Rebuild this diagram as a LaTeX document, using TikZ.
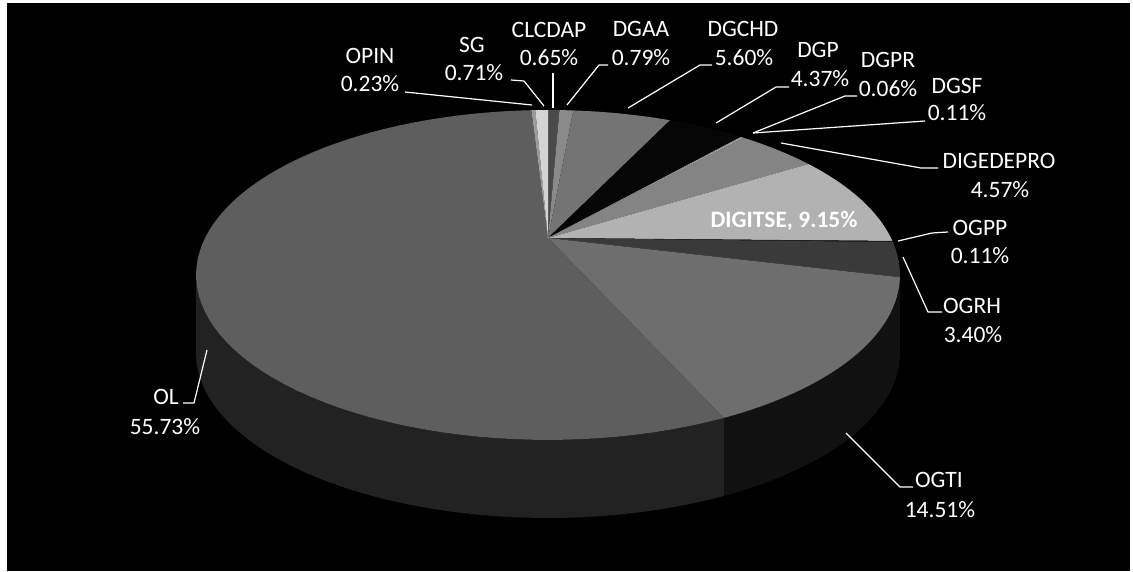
\documentclass[tikz,border=0pt]{standalone}
\usepackage{fontspec}
\setmainfont{Carlito}
\definecolor{cCLC}{HTML}{4A4A4A}
\definecolor{cDGAA}{HTML}{8A8A8A}
\definecolor{cDGCHD}{HTML}{747474}
\definecolor{cDGP}{HTML}{060606}
\definecolor{cDGPR}{HTML}{9A9A9A}
\definecolor{cDGSF}{HTML}{ABABAB}
\definecolor{cDIGE}{HTML}{848484}
\definecolor{cDIGI}{HTML}{B2B2B2}
\definecolor{cOGPP}{HTML}{1C1C1C}
\definecolor{cOGRH}{HTML}{3A3A3A}
\definecolor{cOGTI}{HTML}{6E6E6E}
\definecolor{cOL}{HTML}{5E5E5E}
\definecolor{cOPIN}{HTML}{9C9C9C}
\definecolor{cSG}{HTML}{D4D4D4}
\definecolor{sOL}{HTML}{222222}
\definecolor{sOGTI}{HTML}{111111}
\newcommand\pieslice[3]{\fill[#3] (apex) -- plot[domain=#1:#2] ({px(\x)},{py(\x)}) -- cycle;}
\newcommand\pieside[3]{\fill[#3] plot[domain=#1:#2] ({px(\x)},{py(\x)}) -- plot[domain=#2:#1] ({px(\x)},{py(\x)+78}) -- cycle;}
\begin{document}
\begin{tikzpicture}[x=1pt,y=-1pt,samples=80,
  declare function={px(\t)=548+343*sin(\t)/(1+0.2242*cos(\t)); py(\t)=(238-103.33*cos(\t))/(1+0.2242*cos(\t));},
  lbl/.style={text=white,font=\fontsize{23.5}{28}\selectfont,anchor=base,inner sep=0pt},
  leader/.style={draw=white,line width=1.2pt,line join=round},
]
\useasboundingbox (0,0) rectangle (1133,571);
\fill[black] (0,0) rectangle (1133,571);
\fill[white] (0,0) rectangle (7,571);
\fill[white] (0,0) rectangle (1133,3);
\fill[white] (1130,0) rectangle (1133,571);

\coordinate (apex) at (548,238);

% sides
\pieside{103.716}{155.952}{sOGTI}
\pieside{155.952}{257}{sOL}

% top faces
\pieslice{0}{2.34}{cCLC}
\pieslice{2.34}{5.184}{cDGAA}
\pieslice{5.184}{25.344}{cDGCHD}
\pieslice{25.344}{41.076}{cDGP}
\pieslice{41.076}{41.292}{cDGPR}
\pieslice{41.292}{41.688}{cDGSF}
\pieslice{41.688}{58.14}{cDIGE}
\pieslice{58.14}{91.08}{cDIGI}
\pieslice{91.08}{91.476}{cOGPP}
\pieslice{91.476}{103.716}{cOGRH}
\pieslice{103.716}{155.952}{cOGTI}
\pieslice{155.952}{356.58}{cOL}
\pieslice{356.58}{357.408}{cOPIN}
\pieslice{357.408}{360}{cSG}

% labels
\node[lbl] (opin) at (370,63) {OPIN};
\node[lbl] (opinv) at (370,91) {0.23\%};
\node[lbl] (sg) at (472,52) {SG};
\node[lbl] (sgv) at (474,80) {0.71\%};
\node[lbl] (clc) at (549,37) {CLCDAP};
\node[lbl] (clcv) at (549,65) {0.65\%};
\node[lbl] (dgaa) at (641,36) {DGAA};
\node[lbl] (dgaav) at (641,65) {0.79\%};
\node[lbl] (dgchd) at (743,36) {DGCHD};
\node[lbl] (dgchdv) at (744,65) {5.60\%};
\node[lbl] (dgp) at (818,57) {DGP};
\node[lbl] (dgpv) at (820,86) {4.37\%};
\node[lbl] (dgpr) at (888,67) {DGPR};
\node[lbl] (dgprv) at (888,96) {0.06\%};
\node[lbl] (dgsf) at (957,93) {DGSF};
\node[lbl] (dgsfv) at (957,120) {0.11\%};
\node[lbl] (dige) at (999,168) {DIGEDEPRO};
\node[lbl] (digev) at (1000,197) {4.57\%};
\node[lbl] (ogpp) at (980,235) {OGPP};
\node[lbl] (ogppv) at (980,263) {0.11\%};
\node[lbl] (ogrh) at (972,313) {OGRH};
\node[lbl] (ogrhv) at (973,342) {3.40\%};
\node[lbl] (ogti) at (939,487) {OGTI};
\node[lbl] (ogtiv) at (940,517) {14.51\%};
\node[lbl] (ol) at (166,404) {OL};
\node[lbl] (olv) at (165,434) {55.73\%};
\node[lbl,font=\fontsize{23.5}{28}\selectfont\bfseries] (digi) at (784,227) {DIGITSE, 9.15\%};

% leader points
\coordinate (opinA) at (405,92);  \coordinate (opinB) at (532,105);
\coordinate (sgA) at (511,80);    \coordinate (sgB) at (524,81);   \coordinate (sgC) at (544,106);
\coordinate (clcA) at (553,73);   \coordinate (clcB) at (553,108);
\coordinate (dgaaA) at (608,65);  \coordinate (dgaaB) at (599,65); \coordinate (dgaaC) at (567,105);
\coordinate (dgchdA) at (712,65); \coordinate (dgchdB) at (700,65); \coordinate (dgchdC) at (628,108);
\coordinate (dgpA) at (789,87);   \coordinate (dgpB) at (776,87);  \coordinate (dgpC) at (716,123);
\coordinate (dgprA) at (857,96);  \coordinate (dgprB) at (845,96); \coordinate (dgprC) at (753,133);
\coordinate (dgsfA) at (925,121); \coordinate (dgsfC) at (753,133);
\coordinate (digeA) at (938,168); \coordinate (digeB) at (921,168); \coordinate (digeC) at (781,143);
\coordinate (ogppA) at (948,232); \coordinate (ogppB) at (932,233); \coordinate (ogppC) at (898,241);
\coordinate (ogrhA) at (903,257); \coordinate (ogrhB) at (928,312); \coordinate (ogrhC) at (942,312);
\coordinate (ogtiA) at (846,433); \coordinate (ogtiB) at (900,487); \coordinate (ogtiC) at (913,487);
\coordinate (olA) at (183,403);   \coordinate (olB) at (194,403);  \coordinate (olC) at (207,350);

\draw[leader] (opinA) -- (opinB);
\draw[leader] (sgA) -- (sgB) -- (sgC);
\draw[leader] (clcA) -- (clcB);
\draw[leader] (dgaaA) -- (dgaaB) -- (dgaaC);
\draw[leader] (dgchdA) -- (dgchdB) -- (dgchdC);
\draw[leader] (dgpA) -- (dgpB) -- (dgpC);
\draw[leader] (dgprA) -- (dgprB) -- (dgprC);
\draw[leader] (dgsfA) -- (dgsfC);
\draw[leader] (digeA) -- (digeB) -- (digeC);
\draw[leader] (ogppA) -- (ogppB) -- (ogppC);
\draw[leader] (ogrhA) -- (ogrhB) -- (ogrhC);
\draw[leader] (ogtiA) -- (ogtiB) -- (ogtiC);
\draw[leader] (olA) -- (olB) -- (olC);
\end{tikzpicture}
\end{document}
